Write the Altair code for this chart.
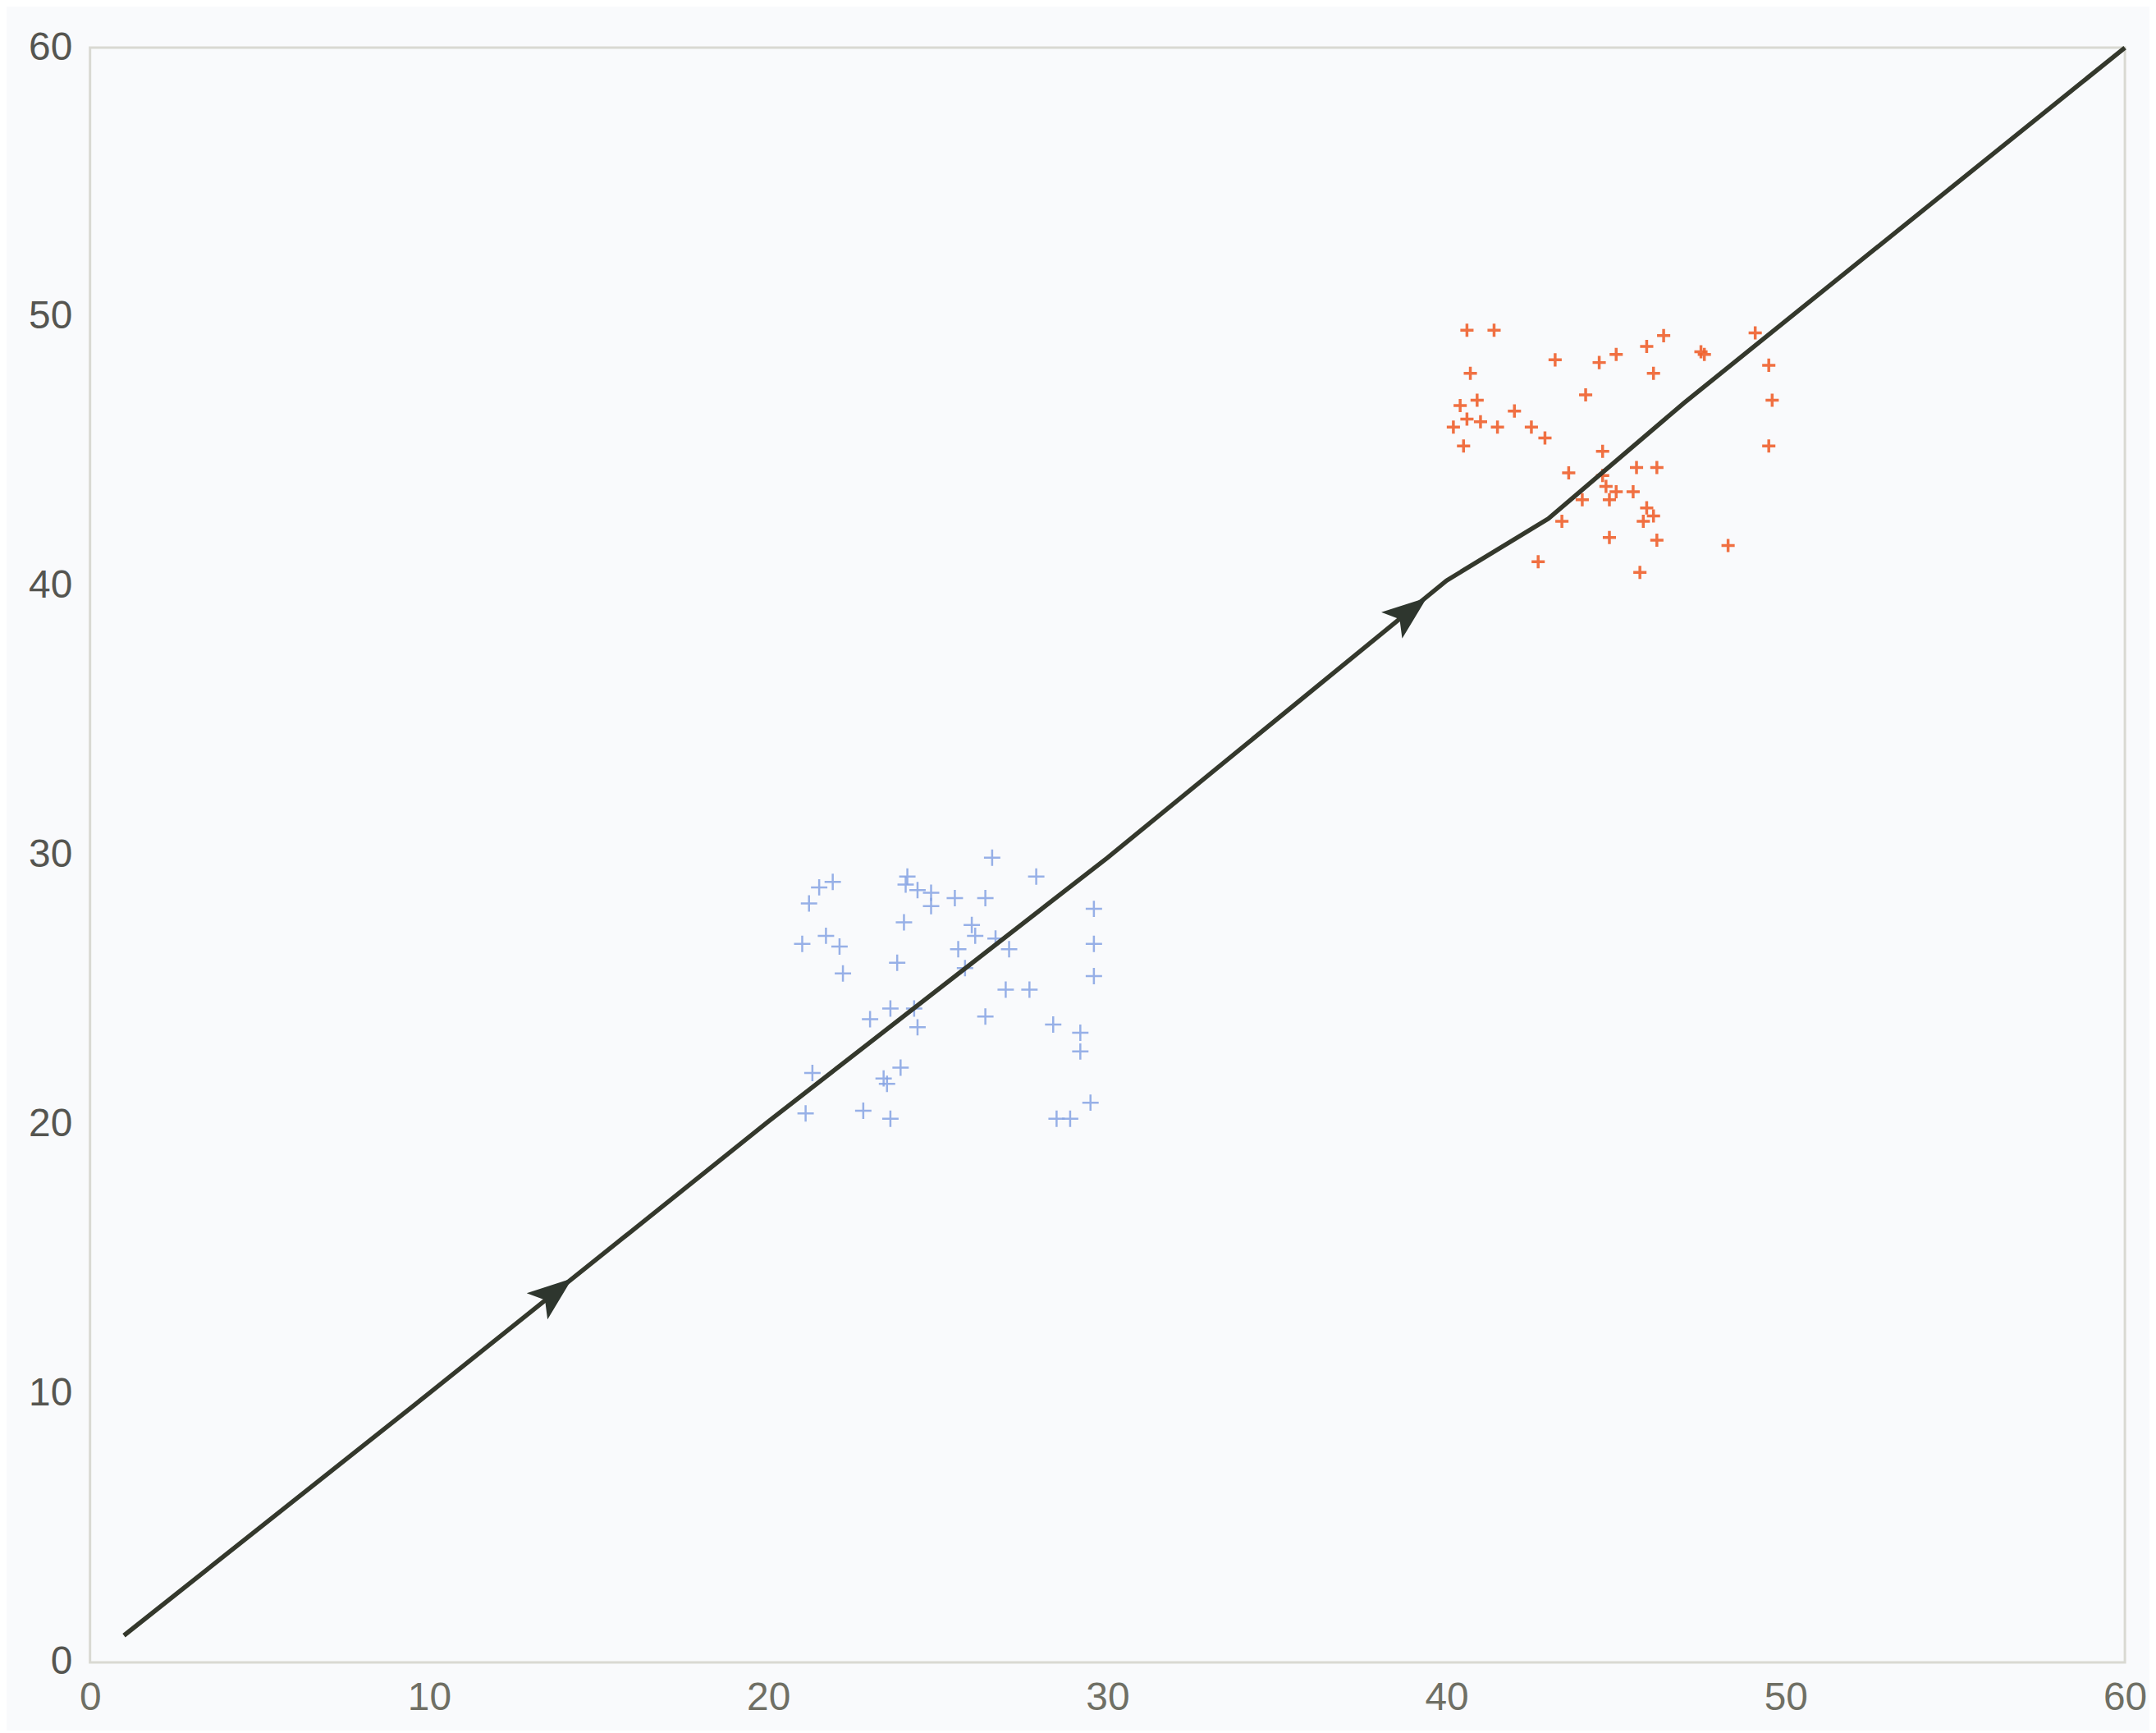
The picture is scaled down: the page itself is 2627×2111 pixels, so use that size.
import altair as alt
import pandas as pd

# Blue cluster ("+" markers)
blue_x = [26.6, 21.5, 21.9, 21.2, 24.1, 24.4, 24.8, 24.8, 24.05, 25.5, 26.4, 27.9, 29.6,
          21.0, 21.7, 22.1, 22.2, 24.0, 23.8, 26.0, 26.1, 25.6, 26.7, 27.1, 29.6, 29.6,
          27.0, 27.7, 26.4, 25.8, 23.6, 24.3, 23.0, 24.4, 28.4, 29.2, 29.2, 23.9, 23.4,
          23.5, 21.3, 21.1, 22.8, 23.6, 28.5, 28.9, 29.5]
blue_y = [29.9, 28.8, 29.0, 28.2, 29.2, 28.7, 28.6, 28.1, 28.9, 28.4, 28.4, 29.2, 28.0,
          26.7, 27.0, 26.6, 25.6, 27.5, 26.0, 27.4, 27.0, 26.5, 26.9, 26.5, 26.7, 25.5,
          25.0, 25.0, 24.0, 25.8, 24.3, 24.3, 23.9, 23.6, 23.7, 23.4, 22.7, 22.1, 21.7,
          21.5, 21.9, 20.4, 20.5, 20.2, 20.2, 20.2, 20.8]

# Red cluster ("+" markers)
red_x = [40.6, 41.4, 43.2, 44.5, 45.0, 45.9, 46.4, 47.5, 47.6, 49.1, 49.5, 46.1, 40.7,
         44.1, 49.6, 40.4, 40.9, 42.0, 40.2, 40.6, 41.0, 41.5, 42.5, 42.9, 40.5, 49.5,
         44.6, 43.6, 44.6, 45.6, 46.2, 44.7, 45.0, 44.0, 44.8, 45.5, 45.9, 45.8, 46.1,
         43.4, 44.8, 46.2, 48.3, 42.7, 45.7]
red_y = [49.5, 49.5, 48.4, 48.3, 48.6, 48.9, 49.3, 48.7, 48.6, 49.4, 48.2, 47.9, 47.9,
         47.1, 46.9, 46.7, 46.9, 46.5, 45.9, 46.2, 46.1, 45.9, 45.9, 45.5, 45.2, 45.2,
         45.0, 44.2, 44.1, 44.4, 44.4, 43.7, 43.5, 43.2, 43.2, 43.5, 42.9, 42.4, 42.6,
         42.4, 41.8, 41.7, 41.5, 40.9, 40.5]

# Path line
path_x = [1.0, 10.0, 20.0, 30.0, 40.0, 43.0, 47.0, 60.0]
path_y = [1.0, 10.0, 20.1, 29.9, 40.2, 42.5, 46.8, 60.0]

# Arrow heads along the path
arrow_x = [13.7, 38.9]
arrow_y = [13.75, 39.05]

tick_values = [0, 10, 20, 30, 40, 50, 60]

blue_df = pd.DataFrame({"x": blue_x, "y": blue_y})
red_df = pd.DataFrame({"x": red_x, "y": red_y})
path_df = pd.DataFrame({"x": path_x, "y": path_y, "o": list(range(len(path_x)))})
arrow_df = pd.DataFrame({"x": arrow_x, "y": arrow_y})

xs = alt.Scale(domain=[0, 60], nice=False, zero=False)
ys = alt.Scale(domain=[0, 60], nice=False, zero=False)

xaxis = alt.Axis(values=tick_values, grid=False, ticks=False, domain=False,
                 labelFontSize=48, labelFont="Liberation Sans", labelColor="#6f6f64",
                 labelPadding=20, title=None, labelFlush=False)
yaxis = alt.Axis(values=tick_values, grid=False, ticks=False, domain=False,
                 labelFontSize=48, labelFont="Liberation Sans", labelColor="#555550",
                 labelPadding=22, title=None, labelFlush=False)

cross = "M -1 0 L 1 0 M 0 -1 L 0 1"
arrow_shape = "M 1 0 L -1 -0.75 L -0.55 0 L -1 0.75 Z"

blue = alt.Chart(blue_df).mark_point(shape=cross, filled=False, size=400,
                                     strokeWidth=2.5, color="#86a4e4", opacity=0.85).encode(
    x=alt.X("x:Q", scale=xs, axis=xaxis),
    y=alt.Y("y:Q", scale=ys, axis=yaxis),
)
red = alt.Chart(red_df).mark_point(shape=cross, filled=False, size=260,
                                   strokeWidth=3.5, color="#f0622e", opacity=0.9).encode(
    x=alt.X("x:Q", scale=xs),
    y=alt.Y("y:Q", scale=ys),
)
line = alt.Chart(path_df).mark_line(color="#34382c", strokeWidth=5.5).encode(
    x=alt.X("x:Q", scale=xs),
    y=alt.Y("y:Q", scale=ys),
    order="o:Q",
)
arrows = alt.Chart(arrow_df).mark_point(shape=arrow_shape, filled=True, size=3000,
                                        angle=321.6, color="#2e362e", opacity=1,
                                        strokeWidth=0).encode(
    x=alt.X("x:Q", scale=xs),
    y=alt.Y("y:Q", scale=ys),
)

chart = alt.layer(blue, red, line, arrows).properties(
    width=2487, height=1973,
    autosize=alt.AutoSizeParams(type="none"),
    padding={"left": 102, "top": 47, "right": 30, "bottom": 80},
    background="#f9fafc",
).configure_view(stroke="#d9d9d2", strokeWidth=3)

chart.save("out.html", embed_options={"renderer": "svg", "actions": False})
